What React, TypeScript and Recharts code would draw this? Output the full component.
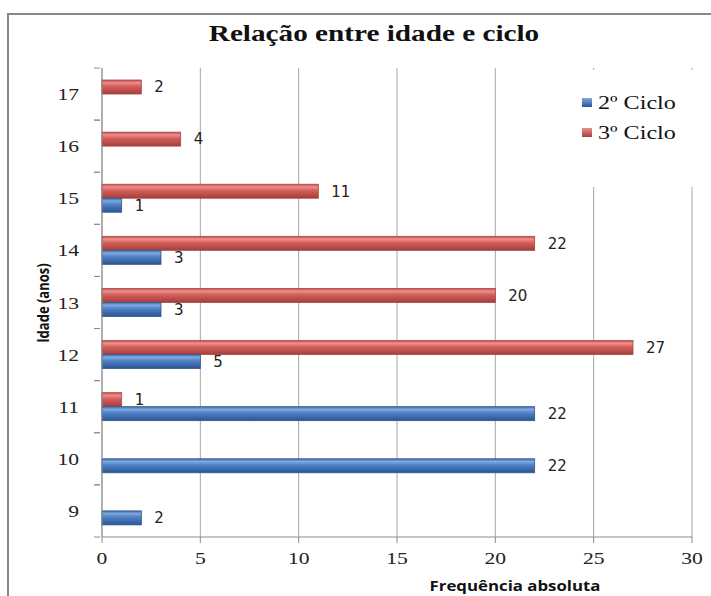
import { Bar, BarChart, CartesianGrid, LabelList, XAxis, YAxis } from "recharts"

const ages = ["9", "10", "11", "12", "13", "14", "15", "16", "17"]
const ciclo2 = [2, 22, 22, 5, 3, 3, 1, 0, 0]
const ciclo3 = [0, 0, 1, 27, 20, 22, 11, 4, 2]
const xTicks = [0, 5, 10, 15, 20, 25, 30]

const rows = ages.map((age, i) => ({ age, ciclo2: ciclo2[i], ciclo3: ciclo3[i] }))

const W = 711
const H = 596
const MARGIN = { top: 68, right: 19, bottom: 29, left: 0 }
const X_AXIS_H = 30
const BAND = (H - MARGIN.top - MARGIN.bottom - X_AXIS_H) / ages.length
// the source picture is stretched sideways, so text is widened a bit
const STRETCH = 1.27

const serif = "'Liberation Serif', 'Times New Roman', serif"
const sans = "'DejaVu Sans', Verdana, sans-serif"
const axisGray = "#8c8c8c"

function AgeTick(props: any) {
  const { x, y, payload } = props
  return (
    <g>
      <line x1={x} x2={x + 6} y1={y + BAND / 2} y2={y + BAND / 2} stroke={axisGray} />
      <line x1={x} x2={x + 6} y1={y - BAND / 2} y2={y - BAND / 2} stroke={axisGray} />
      <text
        transform={`translate(${x - 15},${y + 6}) scale(${STRETCH},1)`}
        textAnchor="end"
        fontFamily={serif}
        fontSize={17}
        fill="#222"
      >
        {payload.value}
      </text>
    </g>
  )
}

function FreqTick(props: any) {
  const { x, y, payload } = props
  return (
    <text
      transform={`translate(${x},${y + 19}) scale(${STRETCH},1)`}
      textAnchor="middle"
      fontFamily={serif}
      fontSize={17}
      fill="#222"
    >
      {payload.value}
    </text>
  )
}

function BevelBar(fill: string, edge: string) {
  return (props: any) => {
    const { x, y, width, height } = props
    if (!width || width <= 0) return <g />
    return <rect x={x} y={y} width={width} height={height} fill={fill} stroke={edge} strokeWidth={0.8} />
  }
}

function valueLabel(v: any) {
  return Number(v) === 0 ? "" : String(v)
}

const labelStyle = { fontFamily: sans, fontSize: 15, fill: "#222" }

export default function App() {
  return (
    <div style={{ position: "absolute", left: 0, top: 0, width: W, height: H, overflow: "hidden", background: "#fff" }}>
      <div
        style={{
          position: "absolute",
          left: 7,
          top: 13,
          width: 740,
          height: 640,
          border: "2px solid #878787",
        }}
      />
      <div
        style={{
          position: "absolute",
          left: 374,
          top: 21,
          transform: `translateX(-50%) scaleX(${STRETCH})`,
          fontFamily: serif,
          fontWeight: "bold",
          fontSize: 23,
          whiteSpace: "nowrap",
          color: "#111",
        }}
      >
        Relação entre idade e ciclo
      </div>
      <BarChart
        width={W}
        height={H}
        data={rows}
        layout="vertical"
        margin={MARGIN}
        barGap={0}
        style={{ position: "absolute", left: 0, top: 0 }}
      >
        <defs>
          <linearGradient id="gBlue" x1="0" y1="0" x2="0" y2="1">
            <stop offset="0%" stopColor="#3f6fae" />
            <stop offset="20%" stopColor="#7fa9e0" />
            <stop offset="45%" stopColor="#4f81c6" />
            <stop offset="100%" stopColor="#2a5590" />
          </linearGradient>
          <linearGradient id="gRed" x1="0" y1="0" x2="0" y2="1">
            <stop offset="0%" stopColor="#c4504d" />
            <stop offset="20%" stopColor="#ec8f8c" />
            <stop offset="45%" stopColor="#d45e5a" />
            <stop offset="100%" stopColor="#a33f3c" />
          </linearGradient>
        </defs>
        <CartesianGrid vertical horizontal={false} stroke="#a6a6a6" />
        <XAxis
          type="number"
          domain={[0, 30]}
          ticks={xTicks}
          height={X_AXIS_H}
          stroke={axisGray}
          tickSize={6}
          tickMargin={2}
          tick={<FreqTick />}
          interval={0}
        />
        <YAxis
          type="category"
          dataKey="age"
          reversed
          width={102}
          stroke={axisGray}
          tickLine={false}
          tick={<AgeTick />}
          interval={0}
        />
        <Bar dataKey="ciclo3" barSize={14} shape={BevelBar("url(#gRed)", "#a94542")} isAnimationActive={false}>
          <LabelList dataKey="ciclo3" position="right" offset={13} formatter={valueLabel} style={labelStyle} />
        </Bar>
        <Bar dataKey="ciclo2" barSize={14} shape={BevelBar("url(#gBlue)", "#30578a")} isAnimationActive={false}>
          <LabelList dataKey="ciclo2" position="right" offset={13} formatter={valueLabel} style={labelStyle} />
        </Bar>
      </BarChart>
      <div
        style={{
          position: "absolute",
          left: 566,
          top: 70,
          width: 135,
          height: 117,
          background: "#fff",
          fontFamily: serif,
          fontSize: 19,
          color: "#111",
        }}
      >
        <div style={{ position: "absolute", left: 16, top: 28, width: 10, height: 9, background: "linear-gradient(#7fa9e0, #2a5590)" }} />
        <div style={{ position: "absolute", left: 32, top: 22, transformOrigin: "0 0", transform: `scaleX(${STRETCH})`, whiteSpace: "nowrap" }}>
          2º Ciclo
        </div>
        <div style={{ position: "absolute", left: 16, top: 58, width: 10, height: 9, background: "linear-gradient(#ec8f8c, #a33f3c)" }} />
        <div style={{ position: "absolute", left: 32, top: 52, transformOrigin: "0 0", transform: `scaleX(${STRETCH})`, whiteSpace: "nowrap" }}>
          3º Ciclo
        </div>
      </div>
      <div
        style={{
          position: "absolute",
          left: 43 - 100,
          top: 303 - 10,
          width: 200,
          height: 20,
          lineHeight: "20px",
          textAlign: "center",
          transform: `rotate(-90deg) scaleY(${STRETCH})`,
          fontFamily: "'Open Sans', sans-serif",
          fontWeight: "bold",
          fontSize: 13,
          whiteSpace: "nowrap",
          color: "#111",
        }}
      >
        Idade (anos)
      </div>
      <div
        style={{
          position: "absolute",
          left: 515,
          top: 576,
          transform: `translateX(-50%) scaleX(1.2)`,
          fontFamily: "'Open Sans', sans-serif",
          fontWeight: "bold",
          fontSize: 14,
          whiteSpace: "nowrap",
          color: "#111",
        }}
      >
        Frequência absoluta
      </div>
    </div>
  )
}
